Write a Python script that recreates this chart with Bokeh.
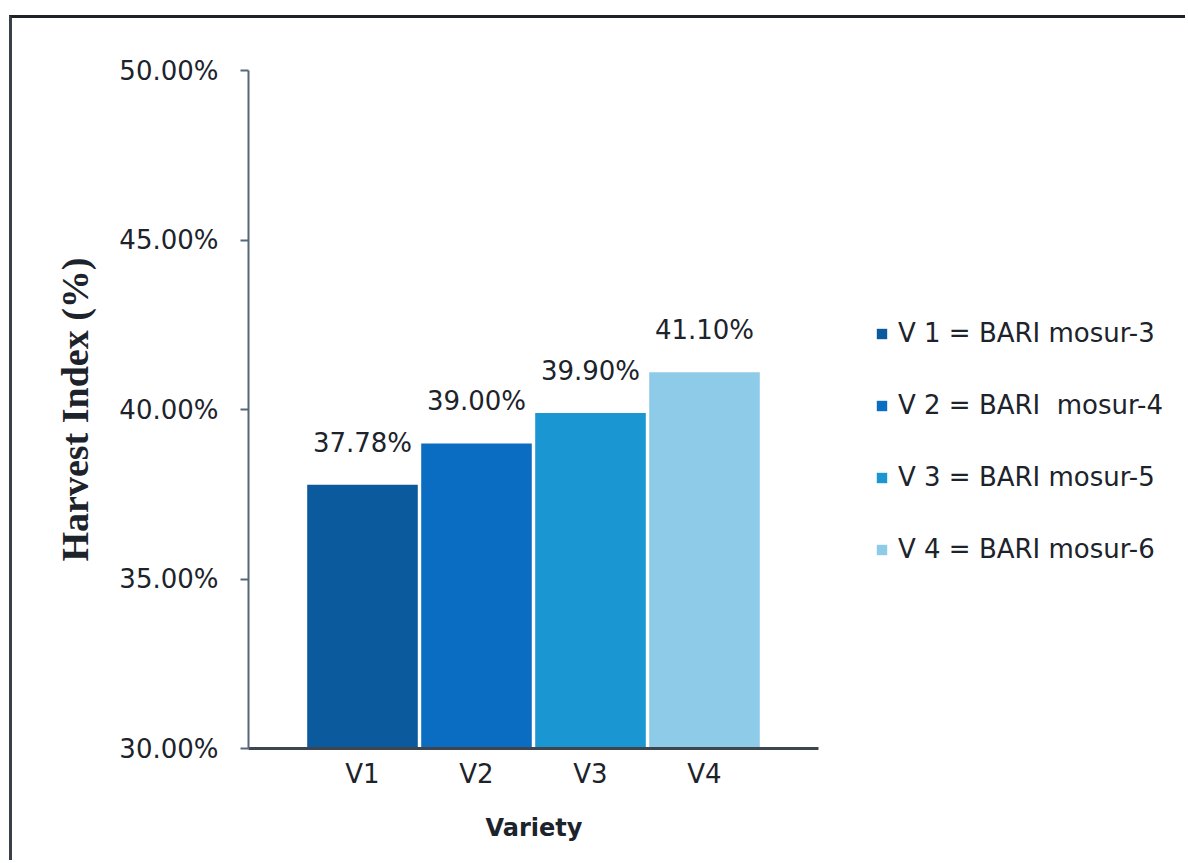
from bokeh.plotting import figure
from bokeh.models import (ColumnDataSource, FixedTicker, PrintfTickFormatter, Legend,
                          LegendItem, Range1d, Title)
from bokeh.core.properties import value
from bokeh.embed import file_html
from bokeh.resources import INLINE

# Harvest index of four lentil varieties
varieties = ["V1", "V2", "V3", "V4"]
positions = [1, 2, 3, 4]
harvest_index = [37.78, 39.00, 39.90, 41.10]
legend_labels = ["V 1 = BARI mosur-3", "V 2 = BARI  mosur-4",
                 "V 3 = BARI mosur-5", "V 4 = BARI mosur-6"]
bar_colors = ["#0b5a9e", "#0a6dc2", "#1a96d2", "#8ecbe9"]
y_ticks = [30, 35, 40, 45, 50]

TEXT = "#1c232b"
SANS = "DejaVu Sans"

# canvas geometry: the plot area spans 5 category slots of 114 px, the legend
# sits in the extra room to the right of the bounded x axis
W, H = 1176, 845
LEFT, RIGHT, TOP, BOTTOM = 236, 0, 52, 115
frame_w = W - LEFT - RIGHT
slot_px = 114.0
x_end = frame_w / slot_px
axis_w = 5 * slot_px
x_title_w = 96  # rendered width of the bold "Variety" title

src = ColumnDataSource(dict(
    x=positions,
    hi=harvest_index,
    label=[f"{v:.2f}%" for v in harvest_index],
))

p = figure(width=W, height=H, output_backend="svg", toolbar_location=None,
           x_range=Range1d(0, x_end), y_range=Range1d(30, 50),
           min_border_left=LEFT, min_border_right=RIGHT,
           min_border_top=TOP, min_border_bottom=BOTTOM)
p.outline_line_color = None
p.xgrid.grid_line_color = None
p.ygrid.grid_line_color = None
p.background_fill_color = "white"
p.border_fill_color = "white"
# page frame: a dark rule along the top and the left edge
p.margin = (15, 0, 0, 9)
p.styles = {"border-top": "3px solid #1e2226", "border-left": "3px solid #3a4046"}

# one renderer per variety so each gets its own legend entry
renderers = []
for i in range(len(varieties)):
    view_src = ColumnDataSource(dict(x=[positions[i]], hi=[harvest_index[i]]))
    r = p.vbar(x="x", top="hi", bottom=30, width=0.97, source=view_src,
               fill_color=bar_colors[i], line_color=None)
    renderers.append(r)

# value labels above the bars
p.text(x="x", y="hi", text="label", source=src, text_align="center",
       text_baseline="middle", y_offset=-42, text_font=value(SANS),
       text_font_size="26px", text_color=TEXT)

# y axis
ya = p.yaxis[0]
ya.ticker = FixedTicker(ticks=y_ticks)
ya.formatter = PrintfTickFormatter(format="%.2f%%")
ya.axis_label = "Harvest Index (%)"
ya.axis_label_text_font = "Liberation Serif"
ya.axis_label_text_font_style = "bold"
ya.axis_label_text_font_size = "38px"
ya.axis_label_text_color = TEXT
ya.axis_label_standoff = 20
ya.major_label_text_font = SANS
ya.major_label_text_font_size = "26px"
ya.major_label_text_color = TEXT
ya.major_label_standoff = 22
ya.major_tick_out = 8
ya.major_tick_in = 0
ya.minor_tick_out = 0
ya.minor_tick_in = 0
ya.axis_line_color = "#56677a"
ya.axis_line_width = 2
ya.major_tick_line_color = "#56677a"
ya.major_tick_line_width = 2

# x axis, drawn only across the five category slots
xa = p.xaxis[0]
xa.ticker = FixedTicker(ticks=positions)
xa.major_label_overrides = {pos: name for pos, name in zip(positions, varieties)}
xa.bounds = (0, 5)
xa.major_label_text_font = SANS
xa.major_label_text_font_size = "26px"
xa.major_label_text_color = TEXT
xa.major_label_standoff = 10
xa.major_tick_out = 0
xa.major_tick_in = 0
xa.minor_tick_out = 0
xa.minor_tick_in = 0
xa.axis_line_color = "#3d464f"
xa.axis_line_width = 3

# x axis title, centred under the bounded axis rather than the whole plot area
x_title = Title(text="Variety", align="left", offset=(axis_w - x_title_w) / 2,
                text_font=SANS, text_font_style="bold", text_font_size="24px",
                text_color=TEXT, standoff=40)
p.add_layout(x_title, "below")

# legend beside the bars
legend = Legend(
    items=[LegendItem(label=legend_labels[i], renderers=[renderers[i]]) for i in range(4)],
    location=(627, 184), orientation="vertical",
    glyph_width=13, glyph_height=13, label_standoff=10, spacing=42,
    padding=0, margin=0, border_line_color=None, background_fill_alpha=0,
    label_text_font=SANS, label_text_font_size="26px", label_text_color=TEXT,
)
p.add_layout(legend, "center")

open("out.html", "w").write(file_html(p, INLINE))
